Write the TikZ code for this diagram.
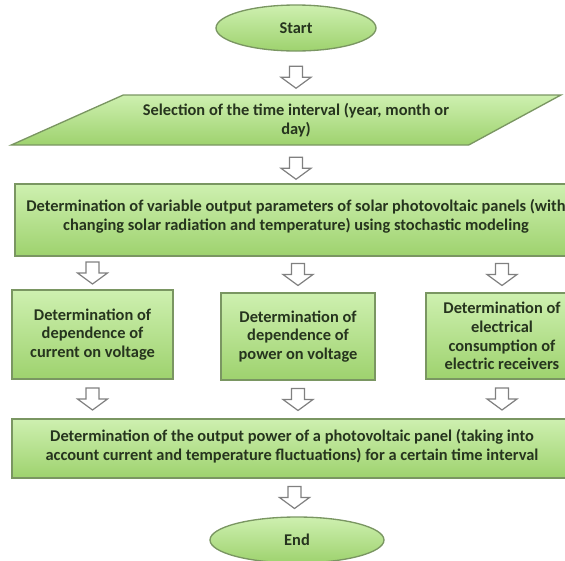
\documentclass[tikz,border=0pt]{standalone}
\usepackage{fontspec}
\setmainfont{Carlito}
\usetikzlibrary{shapes.geometric,calc}

\definecolor{boxtop}{RGB}{206,240,176}
\definecolor{boxbot}{RGB}{158,210,110}
\definecolor{boxline}{RGB}{122,150,98}
\definecolor{txtgreen}{RGB}{38,52,30}
\definecolor{arrowline}{RGB}{128,128,128}

\tikzset{
  stepbox/.style={draw=boxline, line width=1pt, top color=boxtop, bottom color=boxbot, text=txtgreen, font=\fontsize{12.3}{14}\selectfont\bfseries, align=center, inner sep=2pt},
  terminal/.style={stepbox, ellipse},
  inputbox/.style={stepbox, trapezium, trapezium left angle=21, trapezium right angle=155, trapezium stretches=true},
  downarrow/.pic={\draw[arrowline, fill=white, line width=0.9pt, line join=miter] (-6.5,11) -- (6.5,11) -- (6.5,0) -- (15,0) -- (0,-11) -- (-15,0) -- (-6.5,0) -- cycle;}
}

\begin{document}
\begin{tikzpicture}[x=0.75pt,y=0.75pt,yscale=-1,xscale=1]
\useasboundingbox (0,0) rectangle (565,561);

%Shape: Ellipse [start]
\node[terminal, minimum width=120pt, minimum height=34.5pt] (start) at (296,28) {Start};
%Shape: Parallelogram [time interval]
\node[inputbox, minimum width=413pt, minimum height=37.5pt] (sel) at (296,120) {Selection of the time interval (year, month or\\day)};
%Shape: Rectangle [stochastic modeling]
\node[stepbox, minimum width=421.5pt, minimum height=54pt, text depth=8pt] (det) at (296,220) {Determination of variable output parameters of solar photovoltaic panels (with\\changing solar radiation and temperature) using stochastic modeling};
%Shape: Rectangle [current]
\node[stepbox, minimum width=120.75pt, minimum height=66.75pt] (cur) at (92.5,334.5) {Determination of\\dependence of\\current on voltage};
%Shape: Rectangle [power]
\node[stepbox, minimum width=115.5pt, minimum height=65.25pt] (pow) at (298,336.5) {Determination of\\dependence of\\power on voltage};
%Shape: Rectangle [consumption]
\node[stepbox, minimum width=114pt, minimum height=64.5pt] (cons) at (502,336) {Determination of\\electrical\\consumption of\\electric receivers};
%Shape: Rectangle [output power]
\node[stepbox, minimum width=420pt, minimum height=44.25pt, text depth=5pt] (out) at (292,448.5) {Determination of the output power of a photovoltaic panel (taking into\\account current and temperature fluctuations) for a certain time interval};
%Shape: Ellipse [end]
\node[terminal, minimum width=130.5pt, minimum height=34.5pt] (end) at (297,540) {End};

%Shape: Down Arrows
\pic at ($(start.south)!0.6!(sel.north)$) {downarrow};
\pic at ($(sel.south)!0.6!(det.north)$) {downarrow};
\pic at ($(det.south -| cur.north)!0.5!(cur.north)$) {downarrow};
\pic at ($(det.south -| pow.north)!0.5!(pow.north)$) {downarrow};
\pic at ($(det.south -| cons.north)!0.5!(cons.north)$) {downarrow};
\pic at ($(cur.south)!0.5!(out.north -| cur.south)$) {downarrow};
\pic at ($(pow.south)!0.5!(out.north -| pow.south)$) {downarrow};
\pic at ($(cons.south)!0.5!(out.north -| cons.south)$) {downarrow};
\pic at ($(out.south)!0.5!(end.north)$) {downarrow};

\end{tikzpicture}
\end{document}
